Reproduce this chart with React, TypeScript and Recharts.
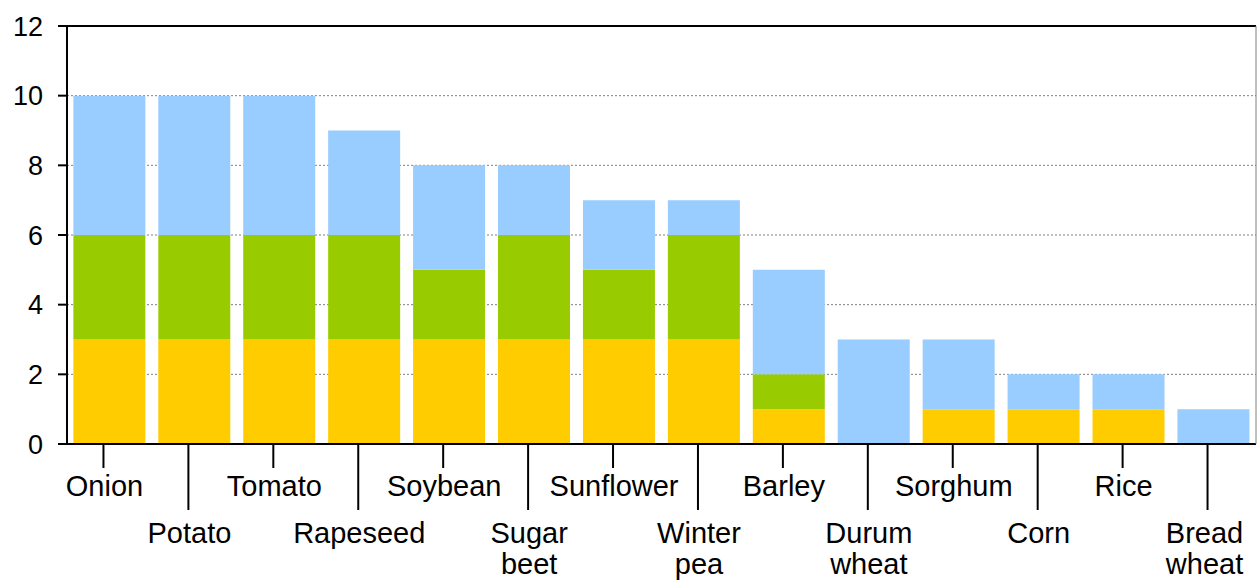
import { Bar, BarChart, CartesianGrid, ReferenceLine, XAxis, YAxis } from 'recharts';

const crops = [
  'Onion', 'Potato', 'Tomato', 'Rapeseed', 'Soybean', 'Sugar beet', 'Sunflower',
  'Winter pea', 'Barley', 'Durum wheat', 'Sorghum', 'Corn', 'Rice', 'Bread wheat',
];
const yellowVals = [3, 3, 3, 3, 3, 3, 3, 3, 1, 0, 1, 1, 1, 0];
const greenVals = [3, 3, 3, 3, 2, 3, 2, 3, 1, 0, 0, 0, 0, 0];
const blueVals = [4, 4, 4, 3, 3, 2, 2, 1, 3, 3, 2, 1, 1, 1];
const yTicks = [0, 2, 4, 6, 8, 10, 12];

const data = crops.map((name, i) => ({
  name,
  yellow: yellowVals[i],
  green: greenVals[i],
  blue: blueVals[i],
}));

const font = '"Liberation Sans", Arial, sans-serif';

function CropTick(props: any) {
  const { x, y, payload, index } = props;
  const low = index % 2 === 1;
  const lines: string[] = String(payload.value).split(' ');
  const tickLen = low ? 66 : 24;
  const first = low ? 99 : 52;
  let tx = x - 5;
  if (index === crops.length - 1) tx = x - 9;
  return (
    <g>
      <line x1={x - 6} x2={x - 6} y1={y} y2={y + tickLen} stroke="#000" strokeWidth={2} />
      {lines.map((l, k) => (
        <text
          key={k}
          x={tx}
          y={y + first + k * 31}
          textAnchor="middle"
          fontSize={29}
          fontFamily={font}
          fill="#000"
        >
          {l}
        </text>
      ))}
    </g>
  );
}

export default function App() {
  return (
    <div style={{ position: 'absolute', left: 0, top: 0, background: '#fff' }}>
      <BarChart
        width={1257}
        height={580}
        data={data}
        margin={{ top: 26, right: 0, bottom: 0, left: 0 }}
        barCategoryGap="7.5%"
      >
        <CartesianGrid vertical={false} stroke="#808080" strokeDasharray="2 2" />
        <XAxis
          dataKey="name"
          height={136}
          interval={0}
          tickSize={0}
          tickMargin={0}
          tickLine={false}
          axisLine={{ stroke: '#000', strokeWidth: 2 }}
          tick={<CropTick />}
        />
        <YAxis
          width={67}
          domain={[0, 12]}
          ticks={yTicks}
          tickSize={9}
          tickMargin={15}
          axisLine={{ stroke: '#000', strokeWidth: 2 }}
          tickLine={{ stroke: '#000', strokeWidth: 2 }}
          tick={{ fill: '#000', fontSize: 27, fontFamily: font }}
        />
        <YAxis
          yAxisId="frame"
          orientation="right"
          width={1}
          tick={false}
          tickLine={false}
          axisLine={{ stroke: '#808080', strokeWidth: 1 }}
        />
        <Bar dataKey="yellow" stackId="a" fill="#FFCC00" isAnimationActive={false} />
        <Bar dataKey="green" stackId="a" fill="#99CC00" isAnimationActive={false} />
        <Bar dataKey="blue" stackId="a" fill="#99CCFF" isAnimationActive={false} />
        <ReferenceLine y={12} stroke="#000" strokeWidth={2} />
      </BarChart>
    </div>
  );
}
